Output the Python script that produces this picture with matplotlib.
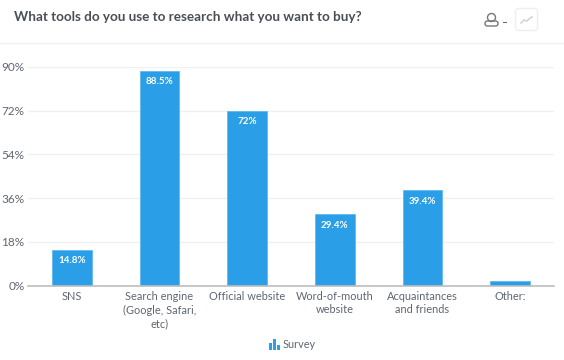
import matplotlib
matplotlib.use('Agg')
import matplotlib.pyplot as plt
from matplotlib.patches import Rectangle, FancyBboxPatch, Circle
from matplotlib.lines import Line2D

plt.rcParams['font.family'] = ['Lato', 'DejaVu Sans']

W, H = 564, 360

# data
title = 'What tools do you use to research what you want to buy?'
categories = ['SNS', 'Search engine\n(Google, Safari,\netc)', 'Official website',
              'Word-of-mouth\nwebsite', 'Acquaintances\nand friends', 'Other:']
values = [14.8, 88.5, 72, 29.4, 39.4, 1.7]
bar_labels = ['14.8%', '88.5%', '72%', '29.4%', '39.4%', '']
y_ticks = [0, 18, 36, 54, 72, 90]
y_tick_labels = ['0%', '18%', '36%', '54%', '72%', '90%']
legend_label = 'Survey'

blue = '#2a9fe8'
grey = '#5f6672'

fig = plt.figure(figsize=(W / 100, H / 100), dpi=100)

# axes placed in pixels
left, right, top, bottom = 28, 554, 67, 285.5
ax = fig.add_axes([left / W, 1 - bottom / H, (right - left) / W, (bottom - top) / H])

ax.bar(range(len(values)), values, width=0.45, color=blue, edgecolor='#55b5f0', linewidth=0.5, zorder=3)
ax.set_xlim(-0.5, 5.5)
ax.set_ylim(0, 90)

ax.set_yticks(y_ticks)
ax.set_yticklabels(y_tick_labels, fontsize=8.5, color=grey)
ax.set_xticks(range(len(values)))
ax.set_xticklabels(categories, fontsize=7.9, color=grey, linespacing=1.27)
ax.tick_params(axis='both', length=0)
ax.tick_params(axis='y', pad=2.5)
ax.tick_params(axis='x', pad=4)
ax.grid(axis='y', color='#f0f0f0', linewidth=1, zorder=0)
ax.grid(axis='x', visible=False)

for s in ['top', 'right', 'left']:
    ax.spines[s].set_visible(False)
ax.spines['bottom'].set_color('#bdbdbd')
ax.spines['bottom'].set_linewidth(1.2)
ax.spines['bottom'].set_zorder(4)

# labels sit inside the top of each bar
for i, (v, lab) in enumerate(zip(values, bar_labels)):
    if lab:
        ax.annotate(lab, (i, v), xytext=(0, -4.8), textcoords='offset points', ha='center', va='top',
                    color='white', fontsize=7.1, fontweight='bold', zorder=5)

# header
fig.text(14 / W, 1 - 17 / H, title, fontsize=9.7, fontweight='bold', color='#4a4f57', va='center', ha='left')
fig.add_artist(Line2D([0, 1], [1 - 43 / H] * 2, color='#efefef', linewidth=1))

# overlay in pixel coordinates for icons
ov = fig.add_axes([0, 0, 1, 1])
ov.set_xlim(0, W)
ov.set_ylim(H, 0)
ov.axis('off')
ov.patch.set_alpha(0)

# user icon + dash
ov.add_patch(Circle((491.5, 17.5), 4, fill=False, ec='#777777', lw=1))
ov.add_patch(FancyBboxPatch((485, 21), 13, 5, boxstyle='round,pad=0,rounding_size=2.4', fill=False, ec='#777777', lw=1))
ov.add_patch(Rectangle((503, 21.5), 3.5, 1.5, color='#666666', lw=0))

# trend button
ov.add_patch(FancyBboxPatch((515.5, 8.5), 22, 22, boxstyle='round,pad=0,rounding_size=3', fc='white', ec='#efefef', lw=1))
ov.plot([521, 524, 527, 530, 532], [23, 20, 21, 18, 17], color='#d4d4d4', lw=1.2)

# legend
for x0, h in [(269, 7), (273, 11), (277, 5)]:
    ov.add_patch(Rectangle((x0, 349.5 - h), 2.6, h, color=blue, lw=0))
ov.text(283, 345, legend_label, fontsize=7.8, color=grey, va='center', ha='left')

fig.savefig('out.png', dpi=100)
